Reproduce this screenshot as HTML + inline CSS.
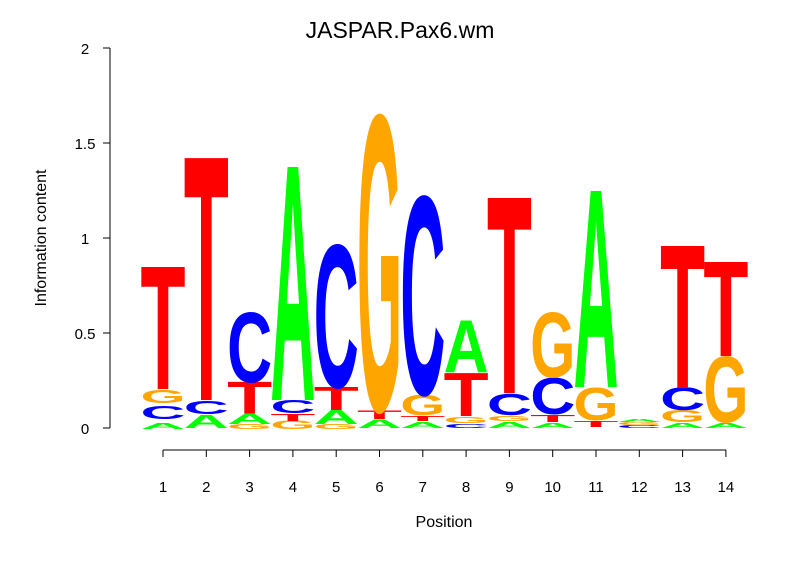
<!DOCTYPE html>
<html><head><meta charset="utf-8"><style>
body{margin:0;background:#fff}
svg text{font-family:"Liberation Sans",sans-serif}
.l{font-weight:bold;font-size:100px}
.A{fill:#00ff00}.C{fill:#0000ff}.G{fill:#ffa500}.T{fill:#ff0000}
.t{font-size:15px;fill:#000}
</style></head><body>
<svg width="806" height="559" xmlns="http://www.w3.org/2000/svg">
<rect width="806" height="559" fill="#fff"/>
<text x="400" y="38" text-anchor="middle" style="font-size:23px">JASPAR.Pax6.wm</text>
<g stroke="#000" stroke-width="1" fill="none">
<path d="M110 48V428M103 48H110M103 143H110M103 238H110M103 333H110M103 428H110"/>
<path d="M163 450H726M163 450v7M206.3 450v7M249.6 450v7M292.9 450v7M336.2 450v7M379.5 450v7M422.8 450v7M466.1 450v7M509.4 450v7M552.7 450v7M596 450v7M639.3 450v7M682.6 450v7M725.9 450v7"/>
</g>
<g class="t" text-anchor="middle">
<text x="85" y="54">2</text><text x="85" y="149">1.5</text><text x="85" y="244">1</text><text x="85" y="339">0.5</text><text x="85" y="434">0</text>
<text x="163" y="492">1</text><text x="206.3" y="492">2</text><text x="249.6" y="492">3</text><text x="292.9" y="492">4</text><text x="336.2" y="492">5</text><text x="379.5" y="492">6</text><text x="422.8" y="492">7</text><text x="466.1" y="492">8</text><text x="509.4" y="492">9</text><text x="552.7" y="492">10</text><text x="596" y="492">11</text><text x="639.3" y="492">12</text><text x="682.6" y="492">13</text><text x="725.9" y="492">14</text>
<text x="444" y="527" style="font-size:16px">Position</text>
<text transform="translate(46,238) rotate(-90)" style="font-size:16px">Information content</text>
</g>
<g class="l">
<text class="A" textLength="100" lengthAdjust="spacingAndGlyphs" transform="translate(140.5,429) scale(0.45,0.087)">A</text>
<text class="C" textLength="100" lengthAdjust="spacingAndGlyphs" transform="translate(140.5,419) scale(0.45,0.188)">C</text>
<text class="G" textLength="100" lengthAdjust="spacingAndGlyphs" transform="translate(140.5,403) scale(0.45,0.188)">G</text>
<text class="T" textLength="100" lengthAdjust="spacingAndGlyphs" transform="translate(140.5,389) scale(0.45,1.773)">T</text>

<text class="A" textLength="100" lengthAdjust="spacingAndGlyphs" transform="translate(183.8,428) scale(0.45,0.188)">A</text>
<text class="C" textLength="100" lengthAdjust="spacingAndGlyphs" transform="translate(183.8,414) scale(0.45,0.188)">C</text>
<text class="T" textLength="100" lengthAdjust="spacingAndGlyphs" transform="translate(183.8,400) scale(0.45,3.516)">T</text>

<text class="G" textLength="100" lengthAdjust="spacingAndGlyphs" transform="translate(227.1,429) scale(0.45,0.073)">G</text>
<text class="A" textLength="100" lengthAdjust="spacingAndGlyphs" transform="translate(227.1,424) scale(0.45,0.145)">A</text>
<text class="T" textLength="100" lengthAdjust="spacingAndGlyphs" transform="translate(227.1,414) scale(0.45,0.465)">T</text>
<text class="C" textLength="100" lengthAdjust="spacingAndGlyphs" transform="translate(227.1,382) scale(0.45,1.003)">C</text>

<text class="G" textLength="100" lengthAdjust="spacingAndGlyphs" transform="translate(270.4,429) scale(0.45,0.116)">G</text>
<text class="T" textLength="100" lengthAdjust="spacingAndGlyphs" transform="translate(270.4,421) scale(0.45,0.102)">T</text>
<text class="C" textLength="100" lengthAdjust="spacingAndGlyphs" transform="translate(270.4,413) scale(0.45,0.188)">C</text>
<text class="A" textLength="100" lengthAdjust="spacingAndGlyphs" transform="translate(270.4,400) scale(0.45,3.387)">A</text>

<text class="G" textLength="100" lengthAdjust="spacingAndGlyphs" transform="translate(313.7,429) scale(0.45,0.073)">G</text>
<text class="A" textLength="100" lengthAdjust="spacingAndGlyphs" transform="translate(313.7,424) scale(0.45,0.203)">A</text>
<text class="T" textLength="100" lengthAdjust="spacingAndGlyphs" transform="translate(313.7,410) scale(0.45,0.334)">T</text>
<text class="C" textLength="100" lengthAdjust="spacingAndGlyphs" transform="translate(313.7,387) scale(0.45,2.049)">C</text>

<text class="A" textLength="100" lengthAdjust="spacingAndGlyphs" transform="translate(357,428) scale(0.45,0.116)">A</text>
<text class="T" textLength="100" lengthAdjust="spacingAndGlyphs" transform="translate(357,419) scale(0.45,0.116)">T</text>
<text class="G" textLength="100" lengthAdjust="spacingAndGlyphs" transform="translate(357,410) scale(0.45,4.245)">G</text>

<text class="A" textLength="100" lengthAdjust="spacingAndGlyphs" transform="translate(400.3,428) scale(0.45,0.087)">A</text>
<text class="T" textLength="100" lengthAdjust="spacingAndGlyphs" transform="translate(400.3,421) scale(0.45,0.073)">T</text>
<text class="G" textLength="100" lengthAdjust="spacingAndGlyphs" transform="translate(400.3,415) scale(0.45,0.291)">G</text>
<text class="C" textLength="100" lengthAdjust="spacingAndGlyphs" transform="translate(400.3,394) scale(0.45,2.849)">C</text>

<text class="C" textLength="100" lengthAdjust="spacingAndGlyphs" transform="translate(443.6,428) scale(0.45,0.059)">C</text>
<text class="G" textLength="100" lengthAdjust="spacingAndGlyphs" transform="translate(443.6,423) scale(0.45,0.087)">G</text>
<text class="T" textLength="100" lengthAdjust="spacingAndGlyphs" transform="translate(443.6,416) scale(0.45,0.625)">T</text>
<text class="A" textLength="100" lengthAdjust="spacingAndGlyphs" transform="translate(443.6,372) scale(0.45,0.756)">A</text>

<text class="A" textLength="100" lengthAdjust="spacingAndGlyphs" transform="translate(486.9,428) scale(0.45,0.087)">A</text>
<text class="G" textLength="100" lengthAdjust="spacingAndGlyphs" transform="translate(486.9,421) scale(0.45,0.073)">G</text>
<text class="C" textLength="100" lengthAdjust="spacingAndGlyphs" transform="translate(486.9,415) scale(0.45,0.306)">C</text>
<text class="T" textLength="100" lengthAdjust="spacingAndGlyphs" transform="translate(486.9,393) scale(0.45,2.834)">T</text>

<text class="A" textLength="100" lengthAdjust="spacingAndGlyphs" transform="translate(530.2,428) scale(0.45,0.073)">A</text>
<text class="T" textLength="100" lengthAdjust="spacingAndGlyphs" transform="translate(530.2,422) scale(0.45,0.102)">T</text>
<text class="C" textLength="100" lengthAdjust="spacingAndGlyphs" transform="translate(530.2,414) scale(0.45,0.523)">C</text>
<text class="G" textLength="100" lengthAdjust="spacingAndGlyphs" transform="translate(530.2,377) scale(0.45,0.930)">G</text>

<text class="T" textLength="100" lengthAdjust="spacingAndGlyphs" transform="translate(573.5,427) scale(0.45,0.087)">T</text>
<text class="G" textLength="100" lengthAdjust="spacingAndGlyphs" transform="translate(573.5,420) scale(0.45,0.465)">G</text>
<text class="A" textLength="100" lengthAdjust="spacingAndGlyphs" transform="translate(573.5,387) scale(0.45,2.849)">A</text>

<text class="C" textLength="100" lengthAdjust="spacingAndGlyphs" transform="translate(616.8,428) scale(0.45,0.042)">C</text>
<text class="G" textLength="100" lengthAdjust="spacingAndGlyphs" transform="translate(616.8,425) scale(0.45,0.042)">G</text>
<text class="A" textLength="100" lengthAdjust="spacingAndGlyphs" transform="translate(616.8,422) scale(0.45,0.042)">A</text>

<text class="A" textLength="100" lengthAdjust="spacingAndGlyphs" transform="translate(660.1,428) scale(0.45,0.073)">A</text>
<text class="G" textLength="100" lengthAdjust="spacingAndGlyphs" transform="translate(660.1,422) scale(0.45,0.175)">G</text>
<text class="C" textLength="100" lengthAdjust="spacingAndGlyphs" transform="translate(660.1,410) scale(0.45,0.320)">C</text>
<text class="T" textLength="100" lengthAdjust="spacingAndGlyphs" transform="translate(660.1,388) scale(0.45,2.064)">T</text>

<text class="A" textLength="100" lengthAdjust="spacingAndGlyphs" transform="translate(703.4,428) scale(0.45,0.073)">A</text>
<text class="G" textLength="100" lengthAdjust="spacingAndGlyphs" transform="translate(703.4,422) scale(0.45,0.945)">G</text>
<text class="T" textLength="100" lengthAdjust="spacingAndGlyphs" transform="translate(703.4,356) scale(0.45,1.367)">T</text>
</g>
</svg>
</body></html>
